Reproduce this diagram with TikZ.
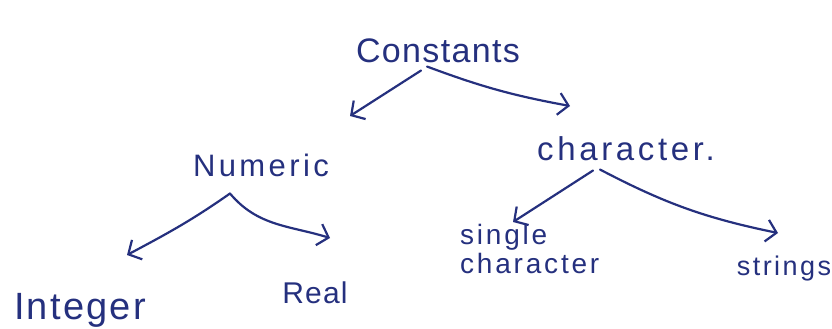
\documentclass[tikz,border=0pt]{standalone}
\usepackage{fontspec}
\setmainfont{Liberation Sans}
\usetikzlibrary{arrows.meta}
\definecolor{ink}{HTML}{25307E}
\tikzset{
  lbl/.style={text=ink, inner sep=0pt, anchor=base},
  arr/.style={draw=ink, line width=2.2pt, line cap=round, line join=round,
    -{Straight Barb[length=10pt,width=22pt]}},
}
\newcommand\handsize[2]{\fontsize{#1}{#1}\selectfont\addfontfeatures{LetterSpace=#2}}
\begin{document}
\begin{tikzpicture}[x=1pt,y=-1pt]
\useasboundingbox (0,0) rectangle (832,329);

% labels of the tree
\node[lbl, font=\handsize{34}{4}]  (cons) at (438,63)  {Constants};
\node[lbl, font=\handsize{31}{11}] (num)  at (261,176) {Numeric};
\node[lbl, font=\handsize{33}{11}] (chr)  at (626,160) {character.};
\node[lbl, font=\handsize{38}{6}]  (int)  at (80,319)  {Integer};
\node[lbl, font=\handsize{30}{4}]  (real) at (315,303) {Real};
\node[lbl, font=\handsize{28}{10}, anchor=north west, align=left] (sgl) at (460,224) {single\\[1pt]character};
\node[lbl, font=\handsize{27}{9}]  (str)  at (784,275) {strings};

% arrow tips
\coordinate (tipnum)  at (350,116);
\coordinate (tipchr)  at (570,106);
\coordinate (tipint)  at (127,255);
\coordinate (tipreal) at (330,238);
\coordinate (tipsgl)  at (513,222);
\coordinate (tipstr)  at (778,233);

% branches
\draw[arr] ([shift={(-17,7)}]cons.south) -- (tipnum);
\draw[arr] ([shift={(-11,3)}]cons.south) to[bend right=5] (tipchr);
\draw[arr] ([shift={(-31,17)}]num.south) to[out=-145,in=28] (tipint);
\draw[arr] ([shift={(-31,17)}]num.south) to[out=-50,in=163] (tipreal);
\draw[arr] ([shift={(-33,10)}]chr.south) -- (tipsgl);
\draw[arr] ([shift={(-26,9)}]chr.south) to[bend right=8] (tipstr);
\end{tikzpicture}
\end{document}
